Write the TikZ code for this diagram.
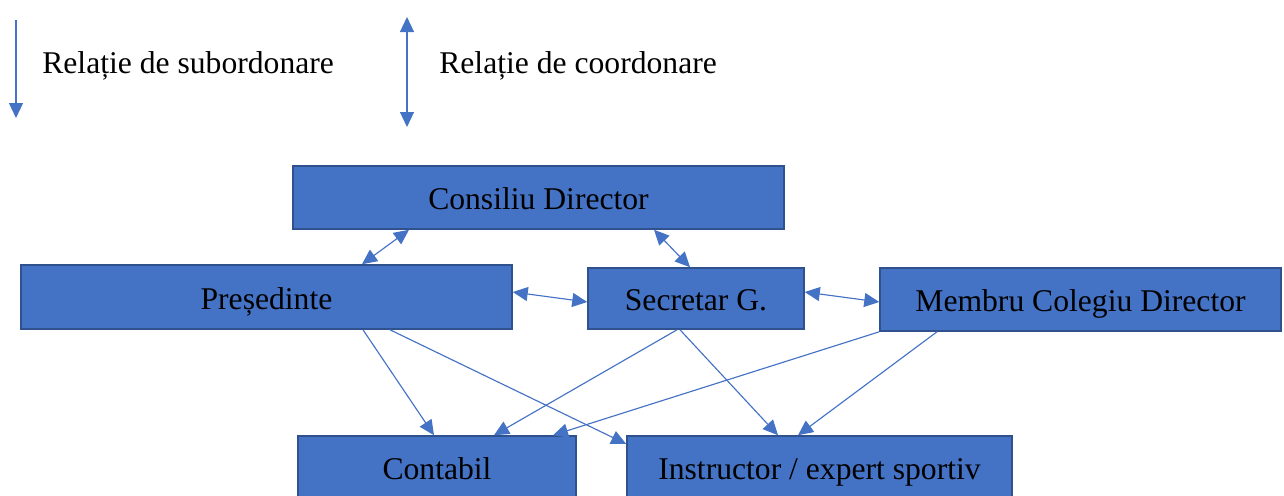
\documentclass[tikz,border=0pt]{standalone}
\usepackage{fontspec}
\setmainfont{Liberation Serif}
\usetikzlibrary{arrows.meta,positioning}
\definecolor{boxblue}{HTML}{4472C4}
\definecolor{boxedge}{HTML}{2F528F}

\begin{document}
\begin{tikzpicture}[x=0.02cm,y=-0.02cm,
  post/.style   = {draw=boxedge, fill=boxblue, line width=0.9pt,
                   minimum height=1.26cm, inner sep=0pt,
                   text height=17pt, text depth=3pt,
                   font=\fontsize{18}{21}\selectfont},
  tip/.style    = {Triangle[length=3mm,width=2.8mm]},
  sub/.style    = {draw=boxblue, line width=0.65pt, -{Triangle[length=3mm,width=2.8mm]}},
  coord/.style  = {sub, {Triangle[length=3mm,width=2.8mm]}-{Triangle[length=3mm,width=2.8mm]}},
  legend/.style = {anchor=west, inner sep=0pt,
                   font=\fontsize{18}{21}\selectfont}]
  \useasboundingbox (0,0) rectangle (1284,495);
  \clip (0,0) rectangle (1284,495);

  % legend
  \coordinate (subA) at (16,20);
  \coordinate (subB) at (16,118);
  \draw[sub] (subA) -- (subB);
  \node[legend] (subtxt) at (42,66) {Relație de subordonare};
  \coordinate (coA) at (407,17);
  \coordinate (coB) at (407,127);
  \draw[coord] (coA) -- (coB);
  \node[legend] (cotxt) at (439,66) {Relație de coordonare};

  % posts
  \node[post, minimum width=9.82cm] (cd)    at (538.5,197.5) {Consiliu Director};
  \node[post, minimum width=9.82cm, minimum height=1.28cm] (pres) at (266.5,297) {Președinte};
  \node[post, minimum width=4.32cm, minimum height=1.22cm] (sec)  at (696,298.5) {Secretar G.};
  \node[post, minimum width=8.02cm] (mem)   at (1080.5,299.5) {Membru Colegiu Director};
  \node[post, minimum width=5.56cm] (cont)  at (437,467.5) {Contabil};
  \node[post, minimum width=7.7cm]  (instr) at (819.5,467.5) {Instructor / expert sportiv};

  % coordonare
  \draw[coord] (409,0 |- cd.south) -- (362,0 |- pres.north);
  \draw[coord] (654,0 |- cd.south) -- (690,0 |- sec.north);
  \draw[coord] (pres.east |- 0,292) -- (sec.west |- 0,302);
  \draw[coord] (sec.east |- 0,292) -- (mem.west |- 0,302);

  % subordonare
  \draw[sub] (363,0 |- pres.south) -- (434,0 |- cont.north);
  \draw[sub] (390,0 |- pres.south) -- (instr.west |- 0,444);
  \draw[sub] (677,0 |- sec.south) -- (494,0 |- cont.north);
  \draw[sub] (680,0 |- sec.south) -- (778,0 |- instr.north);
  \draw[sub] (mem.south west) -- (553,0 |- cont.north);
  \draw[sub] (937,0 |- mem.south) -- (798,0 |- instr.north);
\end{tikzpicture}
\end{document}
